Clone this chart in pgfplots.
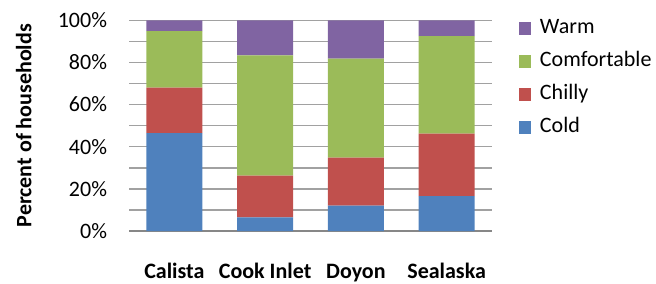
\documentclass[border=0pt]{standalone}
\usepackage{pgfplots}
\pgfplotsset{compat=1.18}
\usepackage{fontspec}
\setmainfont{Carlito}
\definecolor{cCold}{HTML}{4F81BD}
\definecolor{cChilly}{HTML}{C0504D}
\definecolor{cComf}{HTML}{9BBB59}
\definecolor{cWarm}{HTML}{8064A2}
\newcommand{\fs}{\fontsize{22bp}{26bp}\selectfont}
\begin{document}
\begin{tikzpicture}
\useasboundingbox (0,0) rectangle (656bp,284bp);
\begin{axis}[
  at={(129bp,53bp)}, anchor=south west,
  scale only axis, width=363bp, height=210.7bp,
  ybar stacked, bar width=56bp,
  xmin=-0.5, xmax=3.5, ymin=0, ymax=100,
  xtick={0,1,2,3}, xticklabels={Calista, Cook Inlet, Doyon, Sealaska},
  ytick={0,20,40,60,80,100}, minor ytick={10,30,50,70,90},
  ymajorgrids, yminorgrids,
  major grid style={draw=black!37, line width=1.5bp},
  minor grid style={draw=black!37, line width=1.5bp},
  separate axis lines,
  axis x line*=bottom, axis y line*=left,
  y axis line style={draw=none},
  x axis line style={draw=black!47, line width=2bp, -},
  major tick length=0pt, minor tick length=0pt,
  tick style={draw=none},
  /pgf/number format/assume math mode=true,
  yticklabel={\pgfmathprintnumber{\tick}\%},
  yticklabel style={font=\fs, anchor=east, xshift=-18.5bp},
  xticklabel style={font=\fs\bfseries, anchor=base, yshift=-47bp},
  ylabel={Percent of households},
  ylabel style={font=\fs\bfseries, at={(axis description cs:-0.29,0.5)}, anchor=center},
  reverse legend,
  legend style={draw=none, fill=none, at={(axis description cs:1,1)}, anchor=north west,
    xshift=27bp, yshift=2bp, inner sep=0pt, outer sep=0pt, font=\fs,
    row sep=13bp, column sep=9bp,
    nodes={inner sep=0pt, text height=15bp, text depth=5bp}},
  legend cell align=left,
  legend image code/.code={\fill[#1] (0bp,-6.5bp) rectangle (12bp,6.5bp);},
]
\addplot[fill=cCold, draw=none] coordinates {(0,46.4) (1,6.5) (2,12.0) (3,16.5)};
\addplot[fill=cChilly, draw=none] coordinates {(0,21.6) (1,19.8) (2,22.8) (3,29.7)};
\addplot[fill=cComf, draw=none] coordinates {(0,26.9) (1,57.1) (2,47.0) (3,46.3)};
\addplot[fill=cWarm, draw=none] coordinates {(0,5.1) (1,16.6) (2,18.2) (3,7.5)};
\legend{Cold, Chilly, Comfortable, Warm}
\end{axis}
\end{tikzpicture}
\end{document}
